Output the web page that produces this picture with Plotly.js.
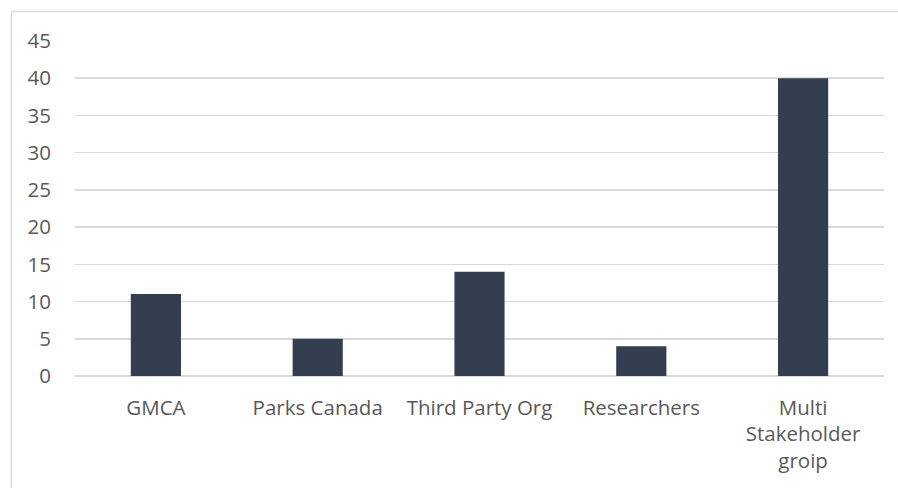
<!DOCTYPE html>
<html><head><meta charset="utf-8">
<script src="https://cdn.plot.ly/plotly-3.0.1.min.js"></script>
<style>body{margin:0;background:#fff}#c{width:898px;height:488px}</style>
</head><body><div id="c"></div>
<script>
const categories = ["GMCA", "Parks Canada", "Third Party Org", "Researchers", "Multi<br>Stakeholder<br>groip"];
const values = [11, 5, 14, 4, 40];
const yTicks = [0, 5, 10, 15, 20, 25, 30, 35, 40, 45];

const trace = {
  type: 'bar', x: categories, y: values,
  marker: {color: '#333F50'}, hoverinfo: 'none'
};
const layout = {
  width: 898, height: 488,
  margin: {l: 75, r: 14, t: 41, b: 112},
  paper_bgcolor: '#fff', plot_bgcolor: '#fff',
  bargap: 0.69,
  showlegend: false,
  font: {family: 'Open Sans, sans-serif', size: 20.5, color: '#595959'},
  xaxis: {
    type: 'category', showgrid: false, zeroline: false, showline: false,
    ticks: 'outside', ticklen: 13, tickcolor: 'rgba(0,0,0,0)',
    tickfont: {size: 20.5, color: '#595959'}
  },
  yaxis: {
    range: [0, 45], tickvals: yTicks, showgrid: true, gridcolor: '#d9d9d9', gridwidth: 1.5,
    zeroline: true, zerolinecolor: '#d9d9d9', zerolinewidth: 1.5, showline: false,
    ticks: 'outside', ticklen: 19, tickcolor: 'rgba(0,0,0,0)',
    tickfont: {size: 20.5, color: '#595959'}
  },
  shapes: [
    {type: 'line', xref: 'paper', yref: 'paper', x0: -0.0785, x1: -0.0785, y0: -0.5, y1: 1.088, line: {color: '#d9d9d9', width: 1.5}},
    {type: 'line', xref: 'paper', yref: 'paper', x0: -0.0785, x1: 1.1, y0: 1.088, y1: 1.088, line: {color: '#d9d9d9', width: 1.5}}
  ]
};
Plotly.newPlot('c', [trace], layout, {staticPlot: true, displayModeBar: false});
</script></body></html>
